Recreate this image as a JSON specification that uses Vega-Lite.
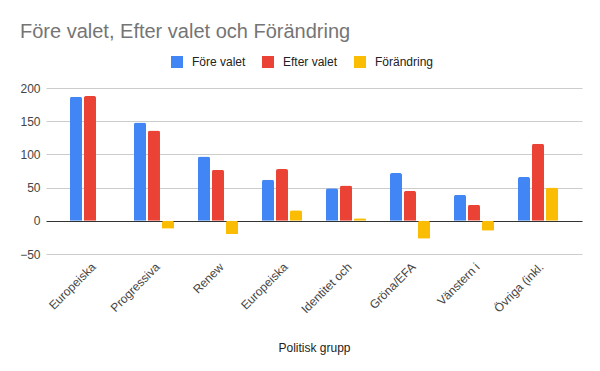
{
  "$schema": "https://vega.github.io/schema/vega-lite/v6.json",
  "width": 536,
  "height": 166,
  "autosize": "none",
  "padding": {"left": 46, "top": 88, "right": 18, "bottom": 117},
  "background": "white",
  "config": {
    "font": "Liberation Sans",
    "view": {"stroke": null}
  },
  "title": {
    "text": "Före valet, Efter valet och Förändring",
    "anchor": "start",
    "frame": "group",
    "dx": -26,
    "dy": -10,
    "fontSize": 20,
    "fontWeight": "normal",
    "color": "#757575",
    "font": "Liberation Sans"
  },
  "data": {
    "values": [
      {"grupp": "Europeiska folkpartiet", "serie": "Före valet", "varde": 187},
      {"grupp": "Europeiska folkpartiet", "serie": "Efter valet", "varde": 188},
      {"grupp": "Europeiska folkpartiet", "serie": "Förändring", "varde": 0},
      {"grupp": "Progressiva förbundet", "serie": "Före valet", "varde": 148},
      {"grupp": "Progressiva förbundet", "serie": "Efter valet", "varde": 136},
      {"grupp": "Progressiva förbundet", "serie": "Förändring", "varde": -12},
      {"grupp": "Renew Europe", "serie": "Före valet", "varde": 97},
      {"grupp": "Renew Europe", "serie": "Efter valet", "varde": 77},
      {"grupp": "Renew Europe", "serie": "Förändring", "varde": -20},
      {"grupp": "Europeiska konservativa", "serie": "Före valet", "varde": 62},
      {"grupp": "Europeiska konservativa", "serie": "Efter valet", "varde": 78},
      {"grupp": "Europeiska konservativa", "serie": "Förändring", "varde": 16},
      {"grupp": "Identitet och demokrati", "serie": "Före valet", "varde": 49},
      {"grupp": "Identitet och demokrati", "serie": "Efter valet", "varde": 53},
      {"grupp": "Identitet och demokrati", "serie": "Förändring", "varde": 4},
      {"grupp": "Gröna/EFA", "serie": "Före valet", "varde": 72},
      {"grupp": "Gröna/EFA", "serie": "Efter valet", "varde": 45},
      {"grupp": "Gröna/EFA", "serie": "Förändring", "varde": -27},
      {"grupp": "Vänstern i Europaparlamentet", "serie": "Före valet", "varde": 39},
      {"grupp": "Vänstern i Europaparlamentet", "serie": "Efter valet", "varde": 24},
      {"grupp": "Vänstern i Europaparlamentet", "serie": "Förändring", "varde": -15},
      {"grupp": "Övriga (inkl. grupplösa)", "serie": "Före valet", "varde": 66},
      {"grupp": "Övriga (inkl. grupplösa)", "serie": "Efter valet", "varde": 116},
      {"grupp": "Övriga (inkl. grupplösa)", "serie": "Förändring", "varde": 50}
    ]
  },
  "mark": {"type": "bar", "cornerRadiusEnd": 2},
  "encoding": {
    "x": {
      "field": "grupp",
      "type": "nominal",
      "sort": null,
      "scale": {"paddingInner": 0.375, "paddingOuter": 0.375},
      "axis": {
        "title": "Politisk grupp",
        "titleFontSize": 12,
        "titleFontWeight": "normal",
        "titleColor": "#222222",
        "titlePadding": 27,
        "labelAngle": -45,
        "labelFontSize": 12,
        "labelColor": "#444444",
        "labelPadding": 7,
        "ticks": false,
        "domain": false,
        "grid": false,
        "labelExpr": "{'Europeiska folkpartiet': 'Europeiska', 'Progressiva förbundet': 'Progressiva', 'Renew Europe': 'Renew', 'Europeiska konservativa': 'Europeiska', 'Identitet och demokrati': 'Identitet och', 'Gröna/EFA': 'Gröna/EFA', 'Vänstern i Europaparlamentet': 'Vänstern i', 'Övriga (inkl. grupplösa)': 'Övriga (inkl.'}[datum.value]"
      }
    },
    "xOffset": {
      "field": "serie",
      "sort": ["Före valet", "Efter valet", "Förändring"],
      "scale": {"paddingInner": 0.143, "paddingOuter": 0}
    },
    "y": {
      "field": "varde",
      "type": "quantitative",
      "scale": {"domain": [-50, 200], "nice": false},
      "axis": {
        "title": null,
        "values": [-50, 0, 50, 100, 150, 200],
        "labelOverlap": false,
        "labelFontSize": 12,
        "labelColor": "#444444",
        "labelPadding": 6,
        "ticks": false,
        "domain": false,
        "grid": true,
        "gridWidth": 1,
        "gridColor": {
          "condition": {"test": "datum.value === 0", "value": "#333333"},
          "value": "#cccccc"
        }
      }
    },
    "color": {
      "field": "serie",
      "type": "nominal",
      "sort": ["Före valet", "Efter valet", "Förändring"],
      "scale": {
        "domain": ["Före valet", "Efter valet", "Förändring"],
        "range": ["#4285F4", "#EA4335", "#FBBC04"]
      },
      "legend": {
        "title": null,
        "orient": "none",
        "direction": "horizontal",
        "legendX": 125,
        "legendY": -32,
        "symbolType": "square",
        "symbolSize": 144,
        "symbolStrokeWidth": 0,
        "labelFontSize": 12,
        "labelColor": "#222222",
        "labelOffset": 9,
        "columnPadding": 16
      }
    }
  }
}
